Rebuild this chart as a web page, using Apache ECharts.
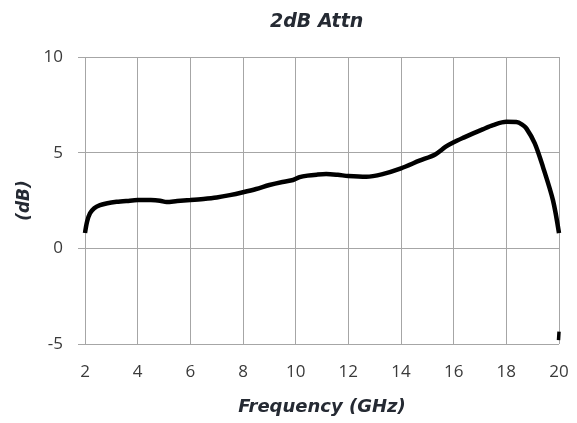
<!DOCTYPE html>
<html>
<head>
<meta charset="utf-8">
<script src="https://cdn.jsdelivr.net/npm/echarts@6/dist/echarts.min.js"></script>
<style>
html,body{margin:0;padding:0;background:#fff;}
#chart{width:577px;height:423px;}
</style>
</head>
<body>
<div id="chart"></div>
<script>
var titleText = '2dB Attn';
var xName = 'Frequency (GHz)';
var yName = '(dB)';
var freqGHz = [2.0, 2.08, 2.19, 2.35, 2.57, 2.85, 3.2, 3.6, 4.0, 4.5, 4.85, 5.1, 5.5, 6.0, 6.5, 7.0, 7.5, 8.0, 8.5, 9.0, 9.5, 9.9, 10.15, 10.45, 10.8, 11.16, 11.6, 12.0, 12.68, 13.3, 14.0, 14.7, 15.3, 15.7, 16.0, 16.4, 16.74, 17.1, 17.5, 18.0, 18.38, 18.6, 18.76, 19.08, 19.39, 19.77, 20.0];
var attnDb = [0.8, 1.4, 1.83, 2.1, 2.26, 2.36, 2.43, 2.48, 2.52, 2.52, 2.49, 2.42, 2.47, 2.52, 2.58, 2.66, 2.78, 2.93, 3.1, 3.31, 3.47, 3.57, 3.72, 3.8, 3.85, 3.88, 3.84, 3.78, 3.74, 3.88, 4.18, 4.58, 4.91, 5.31, 5.54, 5.8, 6.01, 6.22, 6.44, 6.61, 6.6, 6.47, 6.27, 5.49, 4.26, 2.52, 0.8];
var tailFreq = [20.0, 19.98];
var tailDb = [-4.35, -4.8];
var xTicks = {min: 2, max: 20, interval: 2};
var yTicks = {min: -5, max: 10, interval: 5};

var mainData = freqGHz.map(function(f, i){ return [f, attnDb[i]]; });
var tailData = tailFreq.map(function(f, i){ return [f, tailDb[i]]; });

var chart = echarts.init(document.getElementById('chart'), null, {renderer: 'canvas'});
var gridColor = '#a6a6a6';
var labelColor = '#3a3a3a';
chart.setOption({
  animation: false,
  backgroundColor: '#ffffff',
  title: {
    text: titleText,
    left: 265,
    top: 8,
    textStyle: {fontFamily: 'DejaVu Sans', fontWeight: 'bold', fontStyle: 'italic', fontSize: 19, color: '#252a33'}
  },
  grid: {left: 85, right: 18, top: 57, bottom: 79, containLabel: false},
  xAxis: {
    type: 'value',
    min: xTicks.min, max: xTicks.max, interval: xTicks.interval,
    name: xName,
    nameLocation: 'middle',
    nameGap: 54,
    nameTextStyle: {fontFamily: 'DejaVu Sans', fontWeight: 'bold', fontStyle: 'italic', fontSize: 18, color: '#252a33'},
    axisLine: {show: false},
    axisTick: {show: false},
    axisLabel: {margin: 20, fontFamily: 'Open Sans', fontSize: 17, color: labelColor},
    splitLine: {show: true, lineStyle: {color: gridColor, width: 1}}
  },
  yAxis: {
    type: 'value',
    min: yTicks.min, max: yTicks.max, interval: yTicks.interval,
    name: yName,
    nameLocation: 'middle',
    nameGap: 49,
    nameTextStyle: {fontFamily: 'DejaVu Sans', fontWeight: 'bold', fontStyle: 'italic', fontSize: 17, color: '#252a33'},
    axisLine: {show: false},
    axisTick: {show: true, length: 7, lineStyle: {color: gridColor}},
    axisLabel: {margin: 22, fontFamily: 'Open Sans', fontSize: 17, color: labelColor},
    splitLine: {show: true, lineStyle: {color: gridColor, width: 1}}
  },
  series: [
    {
      type: 'line',
      data: mainData,
      smooth: 0.3,
      showSymbol: false,
      clip: true,
      lineStyle: {color: '#000000', width: 4.5}
    },
    {
      type: 'line',
      data: tailData,
      showSymbol: false,
      clip: false,
      lineStyle: {color: '#000000', width: 3.5}
    }
  ]
});
</script>
</body>
</html>
